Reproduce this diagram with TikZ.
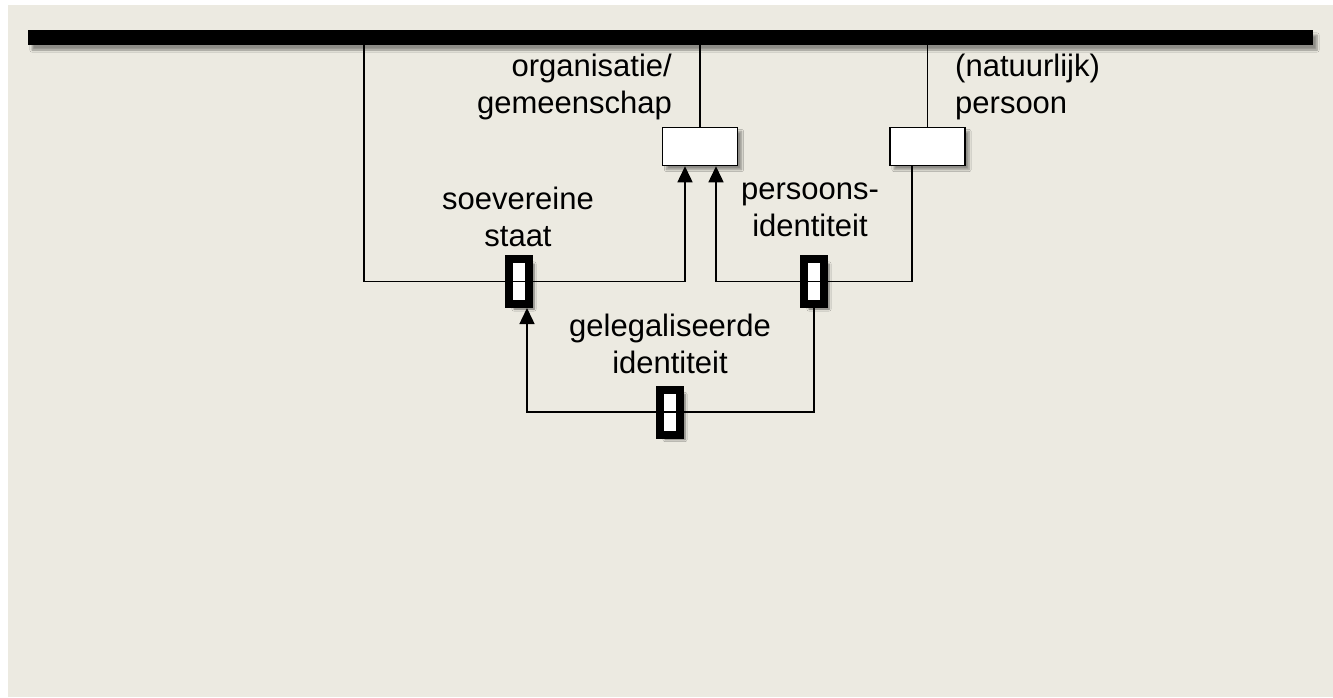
\documentclass[tikz,border=0pt]{standalone}
\usepackage{fontspec}
\setmainfont{Liberation Sans}
\usepackage{tikz}
\usepackage{xcolor}
\usetikzlibrary{arrows.meta,shadows.blur}
\definecolor{fond}{RGB}{236,234,225}
\tikzset{
Barre/.style={
 fill=black, 
 minimum width=1285, 
 minimum height=15, 
 inner sep=0pt, 
 blur shadow={shadow xshift=4pt, shadow yshift=-5pt, shadow blur steps=6}
 },
Boite/.style={
 draw=black, 
 fill=white, 
 line width=1.5pt, 
 minimum width=75, 
 minimum height=38, 
 inner sep=0pt, 
 blur shadow={shadow xshift=4pt, shadow yshift=-4pt, shadow blur steps=6}
 },
Sceau/.style={
 draw=black, 
 fill=white, 
 line width=8pt, 
 minimum width=20, 
 minimum height=45, 
 inner sep=0pt, 
 blur shadow={shadow xshift=5pt, shadow yshift=-5pt, shadow blur steps=6, shadow opacity=55}
 },
Texte/.style={
 inner sep=0pt, 
 font=\fontsize{31}{37}\selectfont
 },
Pointe/.tip={Triangle[length=16pt,width=15pt]},
Fleche/.style={
 draw=black, 
 line width=1.5pt, 
 -Pointe
 },
Lien/.style={
 draw=black, 
 line width=1.5pt
 }
}
\begin{document}
\begin{tikzpicture}[x=1pt,y=-1pt]
\useasboundingbox (0,0) rectangle (1333,697);
\fill[white] (0,0) rectangle (1333,697);
\fill[fond] (8,5) rectangle (1333,697);
% bar, boxes and seals
\node[Barre] (barre) at (670.5,37.5) {};
\node[Boite] (org) at (700,146.5) {};
\node[Boite] (pers) at (927.5,146.5) {};
\node[Sceau] (staat) at (519,281.5) {};
\node[Sceau] (ident) at (814,281.5) {};
\node[Sceau] (legal) at (670,412) {};
\coordinate (gauche) at (364,281.5);
% labels
\node[Texte,align=right,anchor=east] (lorg) at (672,87) {organisatie/\\gemeenschap};
\node[Texte,align=left,anchor=west] (lpers) at (955,87) {(natuurlijk)\\persoon};
\node[Texte,align=center] (lstaat) at (518,217) {soevereine\\staat};
\node[Texte,align=center] (lident) at (810,210) {persoons-\\identiteit};
\node[Texte,align=center] (llegal) at (670,344) {gelegaliseerde\\identiteit};
% connectors
\draw[Lien] (barre.south -| org.north) -- (org.north);
\draw[Lien] (barre.south -| pers.north) -- (pers.north);
\draw[Fleche] (barre.south -| gauche) -- (gauche) -| ([xshift=-15pt]org.south);
\draw[Fleche] ([xshift=-15.5pt]pers.south) |- (ident.center) -| ([xshift=16pt]org.south);
\draw[Fleche] (ident.south) |- (legal.center) -| ([xshift=8pt]staat.south);
\end{tikzpicture}
\end{document}
